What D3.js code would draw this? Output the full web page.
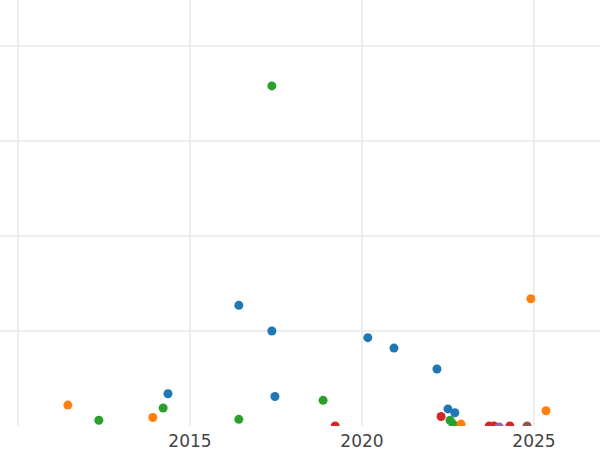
<!DOCTYPE html>
<html><head><meta charset="utf-8">
<script src="https://cdn.jsdelivr.net/npm/d3@7"></script>
<style>body{margin:0;background:#fff}</style></head>
<body><script>
// point data
const years = [2011.45,2012.35,2013.92,2014.22,2014.36,2016.42,2016.42,2017.38,2017.38,2017.47,2018.87,2019.22,2020.17,2020.93,2022.18,2022.3,2022.5,2022.56,2022.7,2022.65,2022.88,2023.7,2023.84,2023.99,2024.3,2024.8,2024.91,2025.35];
const values = [0.22,0.06,0.09,0.19,0.34,0.07,1.27,3.58,1.0,0.31,0.27,0.0,0.93,0.82,0.6,0.1,0.18,0.06,0.14,0.02,0.02,0.0,0.0,-0.01,0.0,0.0,1.34,0.16];
const groups = ["o","g","o","g","b","g","b","g","b","b","g","r","b","b","b","r","b","g","b","g","o","r","r","p","r","br","o","o"];
const palette = {b:"#1f77b4",o:"#ff7f0e",g:"#2ca02c",r:"#d62728",p:"#9467bd",br:"#8c564b"};
const xTicks = [2015,2020,2025];

const W = 600, H = 450, bottom = 426;
const x = d3.scaleLinear().domain([2010, 2026.92]).range([18, 600]);
const y = d3.scaleLinear().domain([0, 4]).range([bottom, 46]);

const svg = d3.select("body").append("svg").attr("width", W).attr("height", H);
svg.append("clipPath").attr("id","c").append("rect").attr("x",0).attr("y",0).attr("width",W).attr("height",bottom);

const grid = svg.append("g");
grid.selectAll(".v").data([2010, ...xTicks]).enter().append("line")
  .attr("x1", d => x(d)).attr("x2", d => x(d)).attr("y1", 0).attr("y2", bottom)
  .attr("stroke", "#e8e8e8").attr("stroke-width", 1.5);
grid.selectAll(".h").data([1,2,3,4]).enter().append("line")
  .attr("x1", 0).attr("x2", W).attr("y1", d => y(d)).attr("y2", d => y(d))
  .attr("stroke", "#e8e8e8").attr("stroke-width", 1.5);

svg.append("g").attr("clip-path","url(#c)").selectAll("circle").data(years).enter().append("circle")
  .attr("cx", d => x(d)).attr("cy", (d, i) => y(values[i])).attr("r", 4.5)
  .attr("fill", (d, i) => palette[groups[i]]);

svg.selectAll(".t").data(xTicks).enter().append("text")
  .attr("x", d => x(d)).attr("y", 447).attr("text-anchor", "middle")
  .attr("font-family", "DejaVu Sans").attr("font-size", 17).attr("fill", "#444")
  .text(d => d);
</script></body></html>
